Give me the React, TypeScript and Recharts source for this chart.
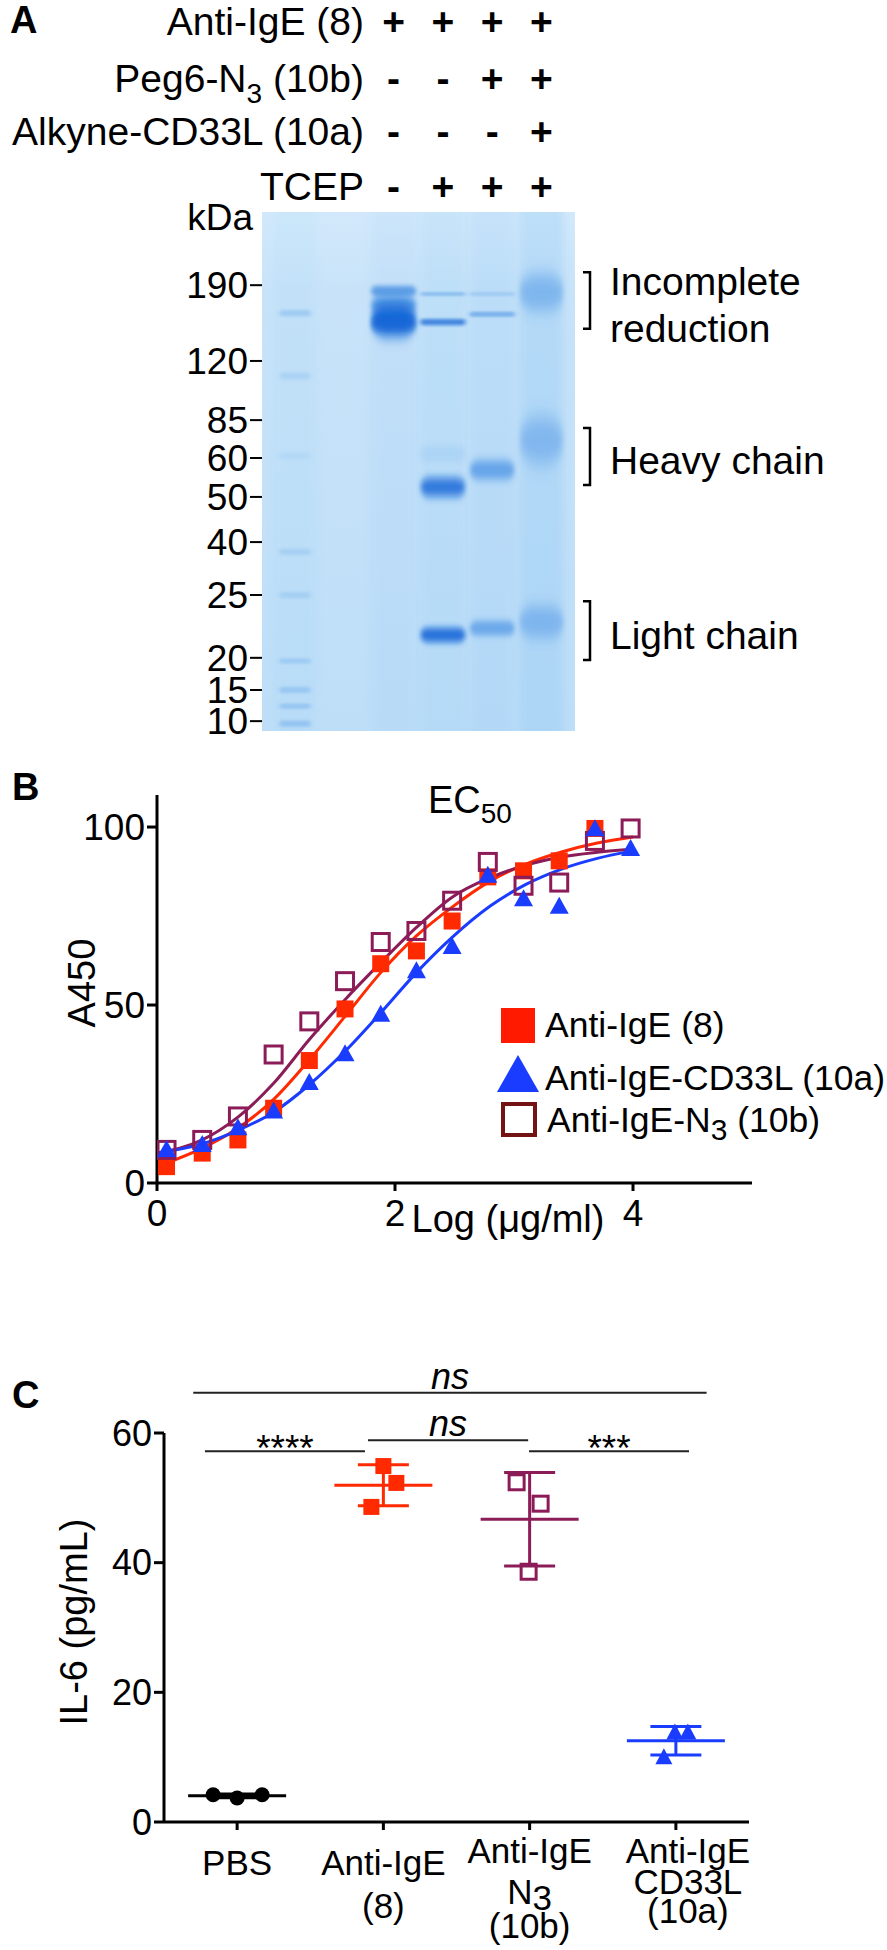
import React from "react";
import {
  ComposedChart,
  Scatter,
  Line,
  XAxis,
  YAxis,
  ReferenceArea,
  ReferenceLine,
  ErrorBar,
  Legend,
} from "recharts";

const FONT = "'Liberation Sans', Arial, Helvetica, sans-serif";
const RED = "#ff2a00";
const BLUE = "#1a3cff";
const PURPLE = "#8c1c58";
const MAROON = "#741313";
const BAND_BLUE = "#0b62d6";

// ---------- A: reducing gel ----------
const HEADER_ROWS = ["Anti-IgE (8)", "Peg6-N3 (10b)", "Alkyne-CD33L (10a)", "TCEP"];
const HEADER_SIGNS = [
  ["+", "+", "+", "+"],
  ["-", "-", "+", "+"],
  ["-", "-", "-", "+"],
  ["-", "+", "+", "+"],
];
const SAMPLE_LANES = [2, 3, 4, 5];
const MARKER_KDA = [190, 120, 85, 60, 50, 40, 25, 20, 15, 10];
const MARKER_RF = [0.141, 0.287, 0.401, 0.474, 0.549, 0.636, 0.738, 0.859, 0.921, 0.981];

// bands: lane, relative migration, spread (rf units), stain intensity
const BAND_LANE = [0, 0, 0, 0, 0, 0, 0, 0, 0, 2, 2, 2, 2, 3, 3, 3, 3, 3, 4, 4, 4, 4, 5, 5, 5];
const BAND_RF = [0.195, 0.316, 0.47, 0.655, 0.738, 0.865, 0.921, 0.952, 0.986,
  0.152, 0.178, 0.207, 0.215,
  0.158, 0.212, 0.466, 0.53, 0.815,
  0.158, 0.197, 0.497, 0.802,
  0.155, 0.44, 0.79];
const BAND_SPREAD = [0.012, 0.014, 0.012, 0.012, 0.012, 0.01, 0.012, 0.01, 0.012,
  0.02, 0.03, 0.062, 0.028,
  0.008, 0.012, 0.03, 0.036, 0.028,
  0.008, 0.01, 0.036, 0.028,
  0.07, 0.09, 0.06];
const BAND_INTENSITY = [0.18, 0.1, 0.06, 0.12, 0.12, 0.15, 0.18, 0.18, 0.2,
  0.5, 0.45, 0.95, 0.6,
  0.25, 0.7, 0.08, 0.8, 0.85,
  0.15, 0.35, 0.45, 0.4,
  0.3, 0.28, 0.28];
const LANE_TINT = [0.03, 0, 0.05, 0.08, 0.1, 0.16];

const BRACKET_TEXT = [["Incomplete", "reduction"], ["Heavy chain"], ["Light chain"]];
const BRACKET_TOP = [0.116, 0.416, 0.75];
const BRACKET_BOTTOM = [0.225, 0.526, 0.863];

// ---------- B: ELISA binding ----------
const LOG_CONC = [0.08, 0.38, 0.68, 0.98, 1.28, 1.58, 1.88, 2.18, 2.48, 2.78, 3.08, 3.38, 3.68, 3.98];
const A450_IGE = [4.6, 8.4, 12.1, 21.0, 34.4, 48.9, 61.6, 65.2, 73.6, 86.0, 87.7, 90.5, 99.6];
const A450_CD33L = [9.3, 10.7, 15.4, 20.1, 28.1, 36.2, 47.3, 59.5, 66.3, 86.3, 79.7, 77.6, 99.4, 93.8];
const A450_N3 = [9.3, 12.1, 18.7, 36.1, 45.4, 56.7, 67.7, 70.8, 79.3, 90.2, 83.5, 84.4, 96.1, 99.6];

const FIT_X = [0, 0.38, 0.68, 0.98, 1.28, 1.58, 1.88, 2.18, 2.48, 2.8, 3.1, 3.4, 3.7, 4.0];
const FIT_IGE = [4.6, 9.8, 15.4, 23.5, 34.6, 46.8, 59.1, 69.4, 77.5, 84.8, 89.6, 93.0, 95.5, 97.2];
const FIT_CD33L = [8.4, 11.0, 14.8, 19.9, 27.6, 37.0, 47.8, 59.1, 69.0, 77.8, 83.9, 88.2, 91.2, 93.3];
const FIT_N3 = [8.4, 12.1, 18.5, 28.0, 40.3, 51.5, 61.9, 71.8, 80.3, 85.8, 89.3, 91.6, 92.9, 93.8];

// ---------- C: IL-6 release ----------
const GROUP_LINES = [["PBS"], ["Anti-IgE", "(8)"], ["Anti-IgE", "N3", "(10b)"], ["Anti-IgE", "CD33L", "(10a)"]];
const IL6_PBS = [4.2, 3.7, 4.2];
const IL6_IGE = [54.9, 52.3, 48.6];
const IL6_N3 = [52.4, 49.1, 38.6];
const IL6_CD33L = [13.8, 13.8, 10.0];

const SIG_FROM = [0.2, 0.28, 1.395, 2.496];
const SIG_TO = [3.71, 1.374, 2.49, 3.59];
const SIG_Y = [66.2, 57.2, 58.9, 57.2];
const SIG_TEXT = ["ns", "****", "ns", "***"];

// layout-only constants
const HEADER_BASELINES = [35, 92, 145, 200];
const JITTER = [[-24, 0, 25], [0, 13, -12], [-13, 11, -1], [-1, 12, -12]];
const LABEL_DY = [[45], [45, 88], [33, 74, 108], [33, 64, 93]];
const LABEL_DX = [0, 0, 0, 12];

const toXY = (xs: number[], ys: number[]) => ys.map((y, i) => ({ x: xs[i], y }));
const mean = (a: number[]) => a.reduce((s, v) => s + v, 0) / a.length;
const sd = (a: number[]) => {
  const m = mean(a);
  return Math.sqrt(a.reduce((s, v) => s + (v - m) ** 2, 0) / (a.length - 1));
};

const axisStroke = { stroke: "#000", strokeWidth: 3 };

// ---------- gel shapes ----------
const GelBackground = (p: any) => (
  <g>
    <defs>
      <linearGradient id="gelBg" x1="0" y1="0" x2="0" y2="1">
        <stop offset="0" stopColor="#d3e9fb" />
        <stop offset="0.15" stopColor="#c8e3f9" />
        <stop offset="1" stopColor="#bedef8" />
      </linearGradient>
    </defs>
    <rect x={p.x} y={p.y} width={p.width} height={p.height} fill="url(#gelBg)" />
  </g>
);

const tintShape = (alpha: number, lane: number) => (p: any) => {
  const id = `tintBlur${lane}`;
  return (
    <g>
      <defs>
        <filter id={id} x="-30%" y="0%" width="160%" height="100%">
          <feGaussianBlur stdDeviation="5 0" />
        </filter>
      </defs>
      <rect x={p.x} y={p.y} width={p.width} height={p.height} fill="#4aa6ea" fillOpacity={alpha} filter={`url(#${id})`} />
    </g>
  );
};

const bandShape = (intensity: number, i: number) => (p: any) => {
  const id = `bandBlur${i}`;
  const h = Math.max(p.height, 3);
  return (
    <g>
      <defs>
        <filter id={id} x="-50%" y="-300%" width="200%" height="700%">
          <feGaussianBlur stdDeviation={`2 ${Math.max(1.2, h * 0.22)}`} />
        </filter>
      </defs>
      <rect x={p.x} y={p.y} width={p.width} height={h} rx={h / 2}
        fill={BAND_BLUE} fillOpacity={intensity} filter={`url(#${id})`} />
    </g>
  );
};

const bracketShape = (lines: string[]) => (p: any) => {
  const xr = p.x + p.width;
  const cy = p.y + p.height / 2;
  const bx = xr + 15;
  const first = cy + 18 - ((lines.length - 1) * 47) / 2;
  return (
    <g>
      <path d={`M${bx - 7},${p.y} H${bx} V${p.y + p.height} H${bx - 7}`} fill="none" stroke="#000" strokeWidth={2.5} />
      {lines.map((t, i) => (
        <text key={t} x={xr + 35} y={first + i * 47} fontSize={39} fill="#000">{t}</text>
      ))}
    </g>
  );
};

const HeaderTick = (props: any) => {
  const col = SAMPLE_LANES.indexOf(props.payload.value);
  return (
    <g>
      {HEADER_SIGNS.map((row, r) => (
        <text key={r} x={props.x} y={HEADER_BASELINES[r]} textAnchor="middle" fontSize={39} fontWeight="bold" fill="#000">
          {row[col]}
        </text>
      ))}
    </g>
  );
};

function GelPanel() {
  const bands = BAND_LANE.map((lane, i) => ({ lane, rf: BAND_RF[i], spread: BAND_SPREAD[i], intensity: BAND_INTENSITY[i] }));
  return (
    <ComposedChart width={887} height={760} margin={{ top: 182, right: 312, bottom: 29, left: 162 }}>
      <XAxis type="number" dataKey="lane" domain={[-0.67, 5.68]} orientation="top" ticks={SAMPLE_LANES}
        interval={0} height={30} tickSize={0} tickMargin={0} axisLine={false} tickLine={false}
        tick={HeaderTick} allowDataOverflow />
      <YAxis type="number" dataKey="rf" domain={[0, 1]} reversed ticks={MARKER_RF} interval={0} width={100}
        tickSize={12} tickMargin={2} axisLine={false} tickLine={{ stroke: "#000", strokeWidth: 2 }}
        tick={{ fill: "#000", fontSize: 37 }} tickFormatter={(v: number) => String(MARKER_KDA[MARKER_RF.indexOf(v)])}
        allowDataOverflow />
      <ReferenceArea x1={-0.67} x2={5.68} y1={0} y2={1} shape={GelBackground} ifOverflow="visible" />
      {LANE_TINT.map((t, lane) => (
        <ReferenceArea key={`tint${lane}`} x1={lane - 0.45} x2={lane + 0.45} y1={0} y2={1}
          shape={tintShape(t, lane)} ifOverflow="visible" />
      ))}
      {bands.map((b, i) => {
        const half = b.lane === 0 ? 0.32 : 0.46;
        return (
          <ReferenceArea key={`band${i}`} x1={b.lane - half} x2={b.lane + half}
            y1={b.rf - b.spread / 2} y2={b.rf + b.spread / 2}
            shape={bandShape(b.intensity, i)} ifOverflow="visible" />
        );
      })}
      {BRACKET_TEXT.map((lines, i) => (
        <ReferenceArea key={`br${i}`} x1={5.6} x2={5.68} y1={BRACKET_TOP[i]} y2={BRACKET_BOTTOM[i]}
          shape={bracketShape(lines)} ifOverflow="visible" />
      ))}
      <Scatter data={bands} dataKey="rf" shape={() => <g />} isAnimationActive={false} />
    </ComposedChart>
  );
}

// ---------- B shapes ----------
const RedSquare = (p: any) => <rect x={p.cx - 8.5} y={p.cy - 8.5} width={17} height={17} fill={RED} />;
const BlueTriangle = (p: any) => (
  <polygon points={`${p.cx},${p.cy - 10} ${p.cx + 9.5},${p.cy + 7} ${p.cx - 9.5},${p.cy + 7}`} fill={BLUE} />
);
const OpenSquare = (p: any) => (
  <rect x={p.cx - 8.5} y={p.cy - 8.5} width={17} height={17} fill="none" stroke={PURPLE} strokeWidth={3} />
);

const LegendB = () => (
  <svg width={390} height={140} style={{ fontFamily: FONT }}>
    <rect x={4} y={3} width={34} height={35} fill="#ff1a00" />
    <text x={48} y={32} fontSize={35.5} fill="#000">Anti-IgE (8)</text>
    <polygon points="21,50 42,87 0,87" fill={BLUE} />
    <text x={48} y={85} fontSize={35.5} fill="#000">Anti-IgE-CD33L (10a)</text>
    <rect x={6} y={99} width={32} height={31} fill="none" stroke={MAROON} strokeWidth={4} />
    <text x={50} y={127} fontSize={35.5} fill="#000">
      Anti-IgE-N<tspan fontSize={30} dy={8}>3</tspan><tspan dy={-8}> (10b)</tspan>
    </text>
  </svg>
);

function BindingPanel() {
  return (
    <ComposedChart width={887} height={480} margin={{ top: 35, right: 135, bottom: 7, left: 77 }}>
      <XAxis type="number" dataKey="x" domain={[0, 5]} ticks={[0, 2, 4]} interval={0} height={50}
        tickSize={8} tickMargin={9} axisLine={axisStroke} tickLine={axisStroke}
        tick={{ fill: "#000", fontSize: 37 }} allowDataOverflow />
      <YAxis type="number" domain={[0, 109]} ticks={[0, 50, 100]} interval={0} width={80}
        tickSize={10} tickMargin={2} axisLine={axisStroke} tickLine={axisStroke}
        tick={{ fill: "#000", fontSize: 37 }} allowDataOverflow />
      <Line data={toXY(FIT_X, FIT_IGE)} dataKey="y" type="monotone" stroke={RED} strokeWidth={3} dot={false} isAnimationActive={false} />
      <Line data={toXY(FIT_X, FIT_N3)} dataKey="y" type="monotone" stroke={PURPLE} strokeWidth={3} dot={false} isAnimationActive={false} />
      <Line data={toXY(FIT_X, FIT_CD33L)} dataKey="y" type="monotone" stroke={BLUE} strokeWidth={3} dot={false} isAnimationActive={false} />
      <Scatter data={toXY(LOG_CONC, A450_IGE)} dataKey="y" shape={RedSquare} isAnimationActive={false} />
      <Scatter data={toXY(LOG_CONC, A450_N3)} dataKey="y" shape={OpenSquare} isAnimationActive={false} />
      <Scatter data={toXY(LOG_CONC, A450_CD33L)} dataKey="y" shape={BlueTriangle} isAnimationActive={false} />
      <Legend layout="horizontal" verticalAlign="middle" align="center" content={LegendB}
        wrapperStyle={{ left: 497, top: 245, width: 390, height: 140 }} />
    </ComposedChart>
  );
}

// ---------- C shapes ----------
const GroupTick = (props: any) => {
  const g = Math.round(props.payload.value - 0.5);
  return (
    <g>
      {GROUP_LINES[g].map((t, i) => (
        <text key={i} x={props.x + LABEL_DX[g]} y={props.y + LABEL_DY[g][i]} textAnchor="middle" fontSize={35} fill="#000">
          {t === "N3" ? (<>N<tspan dy={6}>3</tspan></>) : t}
        </text>
      ))}
    </g>
  );
};

const dotShape = (g: number, color: string, kind: string) => (p: any) => {
  const cx = p.cx + JITTER[g][p.payload.rep];
  const cy = p.cy;
  if (kind === "circle") return <circle cx={cx} cy={cy} r={7.5} fill={color} />;
  if (kind === "square") return <rect x={cx - 8} y={cy - 8} width={16} height={16} fill={color} />;
  if (kind === "open") return <rect x={cx - 7.5} y={cy - 7.5} width={15} height={15} fill="none" stroke={color} strokeWidth={3} />;
  return <polygon points={`${cx},${cy - 9} ${cx + 8.5},${cy + 7} ${cx - 8.5},${cy + 7}`} fill={color} />;
};

const meanShape = (color: string) => (p: any) => (
  <line x1={p.cx - 49} x2={p.cx + 49} y1={p.cy} y2={p.cy} stroke={color} strokeWidth={3} />
);

const sigLabel = (text: string) => (props: any) => {
  const vb = props.viewBox;
  const star = text.startsWith("*");
  return (
    <text x={vb.x + vb.width / 2} y={star ? vb.y + 10 : vb.y - 4} textAnchor="middle"
      fontSize={star ? 37 : 36} fontStyle={star ? "normal" : "italic"} fill="#000">
      {text}
    </text>
  );
};

function CytokinePanel() {
  const groups = [
    { vals: IL6_PBS, color: "#000", kind: "circle" },
    { vals: IL6_IGE, color: RED, kind: "square" },
    { vals: IL6_N3, color: PURPLE, kind: "open" },
    { vals: IL6_CD33L, color: BLUE, kind: "triangle" },
  ];
  return (
    <ComposedChart width={887} height={610} margin={{ top: 93, right: 138, bottom: 8, left: 84 }}>
      <XAxis type="number" dataKey="x" domain={[0, 4]} ticks={[0.5, 1.5, 2.5, 3.5]} interval={0} height={120}
        tickSize={8} tickMargin={0} axisLine={axisStroke} tickLine={axisStroke} tick={GroupTick} allowDataOverflow />
      <YAxis type="number" domain={[0, 60]} ticks={[0, 20, 40, 60]} interval={0} width={80}
        tickSize={10} tickMargin={2} axisLine={axisStroke} tickLine={axisStroke}
        tick={{ fill: "#000", fontSize: 36 }} allowDataOverflow />
      {SIG_TEXT.map((t, i) => (
        <ReferenceLine key={`sig${i}`} segment={[{ x: SIG_FROM[i], y: SIG_Y[i] }, { x: SIG_TO[i], y: SIG_Y[i] }]}
          stroke="#222" strokeWidth={2} ifOverflow="visible" label={sigLabel(t)} />
      ))}
      {groups.map((g, gi) => (
        <Scatter key={`pts${gi}`} data={g.vals.map((y, rep) => ({ x: gi + 0.5, y, rep }))} dataKey="y"
          shape={dotShape(gi, g.color, g.kind)} isAnimationActive={false} />
      ))}
      {groups.map((g, gi) => (
        <Scatter key={`mean${gi}`} data={[{ x: gi + 0.5, y: mean(g.vals), sd: sd(g.vals) }]} dataKey="y"
          shape={meanShape(g.color)} isAnimationActive={false}>
          <ErrorBar dataKey="sd" direction="y" width={25.5} stroke={g.color} strokeWidth={3} />
        </Scatter>
      ))}
    </ComposedChart>
  );
}

export default function App() {
  return (
    <div style={{ position: "absolute", left: 0, top: 0, width: 887, height: 1950, background: "#fff", fontFamily: FONT }}>
      <div style={{ position: "absolute", left: 0, top: 0 }}><GelPanel /></div>
      <div style={{ position: "absolute", left: 0, top: 760 }}><BindingPanel /></div>
      <div style={{ position: "absolute", left: 0, top: 1340 }}><CytokinePanel /></div>
      <svg width={887} height={1950} style={{ position: "absolute", left: 0, top: 0, pointerEvents: "none", fontFamily: FONT }}>
        <text x={10} y={33} fontSize={38} fontWeight="bold">A</text>
        {HEADER_ROWS.map((t, r) => (
          <text key={t} x={364} y={HEADER_BASELINES[r]} textAnchor="end" fontSize={39}>
            {t === "Peg6-N3 (10b)" ? (<>Peg6-N<tspan fontSize={28} dy={11}>3</tspan><tspan dy={-11}> (10b)</tspan></>) : t}
          </text>
        ))}
        <text x={253} y={230} textAnchor="end" fontSize={37}>kDa</text>
        <text x={12} y={800} fontSize={38} fontWeight="bold">B</text>
        <text x={428} y={813} fontSize={38}>EC<tspan fontSize={28} dy={10}>50</tspan></text>
        <text transform="translate(95,983) rotate(-90)" textAnchor="middle" fontSize={38}>A450</text>
        <text x={508} y={1232} textAnchor="middle" fontSize={38}>Log (μg/ml)</text>
        <text x={12} y={1408} fontSize={38} fontWeight="bold">C</text>
        <text transform="translate(87,1622) rotate(-90)" textAnchor="middle" fontSize={38}>IL-6 (pg/mL)</text>
      </svg>
    </div>
  );
}
